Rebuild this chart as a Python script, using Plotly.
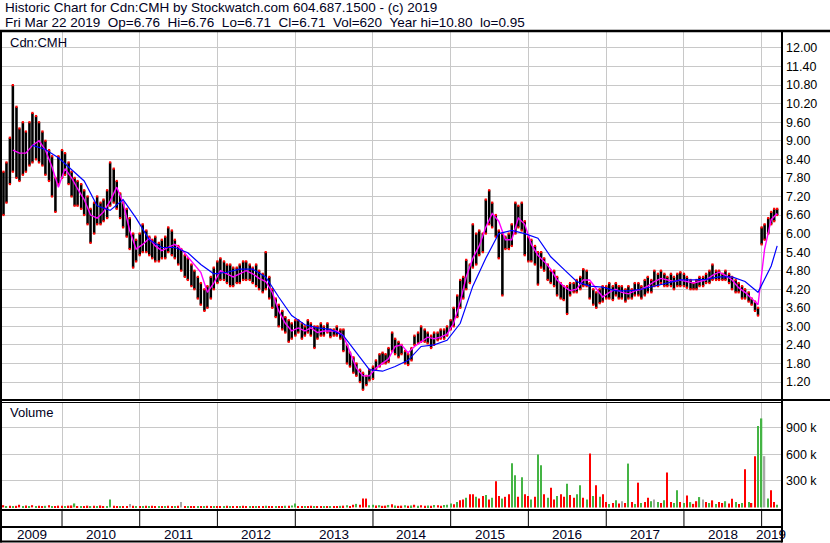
import pandas as pd
import plotly.graph_objects as go

# ---------------- data (semi-monthly samples, Apr 2009 .. Mar 2019) ----------------
dates = pd.date_range("2009-04-01", periods=240, freq="SMS")

high = [
    8.0, 8.3, 9.1, 10.8, 10.1, 9.4, 9.6, 9.3, 9.6, 9.9, 9.8, 9.6, 9.3, 9.0, 8.7, 8.5, 7.8, 8.5,
    8.7, 8.6, 8.3, 8.0, 7.8, 7.7, 7.6, 7.4, 7.2, 6.8, 7.0, 7.2, 7.0, 7.1, 7.4, 8.3, 8.1, 7.7, 7.3, 7.0, 6.8, 6.5, 6.0, 5.8,
    6.0, 6.3, 6.1, 5.9, 5.8, 5.9, 5.7, 5.8, 5.9, 6.2, 6.1, 5.8, 5.6, 5.5, 5.3, 5.2, 5.0, 4.8, 4.6, 4.4, 4.2, 4.3, 4.6, 4.9,
    5.1, 5.2, 5.1, 5.0, 5.0, 4.9, 4.9, 5.0, 5.1, 5.1, 5.0, 4.9, 5.0, 4.8, 4.7, 5.4, 4.6, 4.2, 3.9, 3.7, 3.5, 3.3, 3.2, 3.1,
    3.2, 3.2, 3.1, 3.0, 3.2, 3.1, 3.0, 3.0, 3.1, 3.0, 3.1, 2.9, 2.9, 3.0, 2.9, 2.9, 2.4, 2.15, 2.0, 1.8, 1.6, 1.5, 1.4, 1.6,
    1.7, 1.9, 2.1, 2.15, 2.1, 2.3, 2.8, 2.6, 2.5, 2.4, 2.2, 2.1, 2.3, 2.7, 2.8, 3.0, 2.9, 2.8, 2.7, 2.8, 2.8, 2.9, 2.9, 3.0,
    3.2, 3.6, 4.0, 4.5, 4.6, 5.15, 5.0, 6.3, 6.0, 6.1, 6.0, 7.1, 7.4, 7.0, 6.6, 6.1, 6.0, 5.9, 6.0, 6.3, 7.0, 6.9, 7.0, 6.4,
    5.9, 5.8, 5.6, 5.4, 5.4, 5.2, 5.0, 4.8, 4.8, 4.6, 4.4, 4.3, 4.3, 4.4, 4.4, 4.5, 4.6, 4.85, 4.8, 4.4, 4.2, 4.1, 4.2, 4.3,
    4.3, 4.4, 4.3, 4.4, 4.3, 4.3, 4.2, 4.3, 4.2, 4.4, 4.4, 4.3, 4.5, 4.6, 4.5, 4.8, 4.7, 4.8, 4.7, 4.6, 4.7, 4.6, 4.7, 4.75,
    4.7, 4.6, 4.5, 4.4, 4.5, 4.6, 4.6, 4.7, 4.8, 5.0, 4.8, 4.8, 4.7, 4.8, 4.7, 4.6, 4.5, 4.4, 4.3, 4.2, 4.1, 3.9, 3.8, 3.6,
    6.2, 6.3, 6.5, 6.7, 6.8, 6.8,
]
low = [
    6.6, 7.0, 7.6, 8.0, 7.8, 7.7, 7.9, 8.0, 8.2, 8.3, 8.4, 8.3, 8.2, 7.9, 7.7, 7.2, 6.7, 7.6,
    7.8, 7.9, 7.6, 7.2, 6.9, 6.9, 6.8, 6.6, 6.3, 5.7, 6.0, 6.3, 6.3, 6.4, 6.5, 6.9, 7.0, 6.8, 6.5, 6.2, 5.9, 5.5, 4.9, 5.1,
    5.3, 5.4, 5.4, 5.3, 5.2, 5.1, 5.1, 5.2, 5.2, 5.4, 5.3, 5.2, 5.0, 4.8, 4.6, 4.5, 4.3, 4.2, 3.9, 3.7, 3.5, 3.6, 3.9, 4.2,
    4.4, 4.5, 4.5, 4.4, 4.3, 4.3, 4.4, 4.4, 4.5, 4.5, 4.5, 4.4, 4.3, 4.2, 4.1, 4.2, 3.9, 3.6, 3.3, 3.0, 2.9, 2.8, 2.5, 2.6,
    2.7, 2.8, 2.6, 2.7, 2.8, 2.7, 2.3, 2.6, 2.7, 2.7, 2.8, 2.65, 2.7, 2.7, 2.6, 2.2, 1.8, 1.7, 1.5, 1.4, 1.2, 0.95, 1.1, 1.25,
    1.3, 1.6, 1.7, 1.8, 1.8, 1.85, 2.2, 2.1, 2.0, 2.1, 1.8, 1.75, 1.9, 2.4, 2.45, 2.5, 2.5, 2.45, 2.3, 2.4, 2.55, 2.6, 2.6, 2.7,
    2.9, 3.0, 3.3, 3.6, 3.9, 4.2, 4.4, 4.9, 5.0, 5.3, 5.4, 6.0, 6.3, 6.2, 5.9, 5.2, 4.0, 5.5, 5.5, 5.6, 6.0, 6.2, 6.1, 5.3,
    5.1, 5.1, 5.0, 4.35, 4.9, 4.8, 4.5, 4.4, 4.3, 4.0, 3.9, 3.85, 3.4, 4.0, 4.1, 4.1, 4.2, 4.3, 4.3, 3.9, 3.7, 3.6, 3.75, 3.8,
    3.9, 3.9, 3.85, 4.0, 3.9, 3.9, 3.8, 3.9, 3.9, 4.0, 4.0, 3.9, 4.0, 4.1, 4.1, 4.3, 4.3, 4.4, 4.3, 4.3, 4.3, 4.2, 4.3, 4.3,
    4.3, 4.25, 4.2, 4.2, 4.2, 4.3, 4.3, 4.4, 4.4, 4.5, 4.5, 4.5, 4.5, 4.5, 4.4, 4.2, 4.1, 4.1, 3.9, 3.9, 3.8, 3.7, 3.5, 3.35,
    5.65, 5.8, 6.0, 6.3, 6.4, 6.6,
]

# short moving average (magenta), read at the 15th of each month (samples 3, 5, ... 239)
ma_short = [
    8.7, 8.6, 8.6, 8.85, 9.0, 8.7, 8.15, 7.5, 8.1, 7.8,
    7.45, 7.1, 6.6, 6.5, 6.7, 7.05, 7.5, 7.0, 6.1, 5.5,
    5.65, 5.85, 5.6, 5.45, 5.55, 5.65, 5.5, 5.25, 5.0, 4.75,
    4.1, 4.4, 4.8, 4.7, 4.6, 4.7, 4.8, 4.7, 4.55, 4.45,
    4.1, 3.5, 3.1, 2.85, 2.95, 2.85, 2.95, 2.8, 2.85, 2.85,
    2.85, 2.7, 2.15, 1.65, 1.4, 1.4, 1.65, 1.8, 1.95, 2.35,
    2.4, 2.15, 2.35, 2.5, 2.65, 2.6, 2.65, 2.75, 3.1, 3.8,
    4.6, 5.2, 5.6, 6.2, 6.65, 6.4, 5.8, 5.8, 6.5, 6.3,
    5.65, 5.3, 5.1, 4.85, 4.5, 4.3, 4.15, 4.2, 4.5, 4.5,
    4.2, 3.95, 4.1, 4.2, 4.1, 4.05, 4.15, 4.2, 4.3, 4.45,
    4.55, 4.5, 4.45, 4.5, 4.45, 4.4, 4.45, 4.5, 4.65, 4.75,
    4.65, 4.5, 4.25, 4.1, 3.9, 3.7, 5.5, 6.45, 6.65,
]
# long moving average (blue), read every 4th sample from sample 9, plus the last sample
ma_long = [
    8.85, 8.72, 8.45, 8.05, 7.7, 6.9, 6.75, 7.1, 6.5, 5.8,
    5.55, 5.55, 5.38, 5.0, 4.7, 4.75, 4.85, 4.85, 4.6, 3.95,
    3.35, 3.05, 2.95, 2.9, 2.7, 2.15, 1.6, 1.55, 1.7, 1.9,
    2.35, 2.4, 2.55, 3.1, 4.3, 5.2, 6.0, 6.1, 6.0, 5.85,
    5.25, 4.85, 4.45, 4.3, 4.27, 4.15, 4.15, 4.2, 4.3, 4.4,
    4.5, 4.5, 4.52, 4.6, 4.6, 4.45, 4.1, 4.95, 5.6,
]

# volume (thousands of shares, highest day in each half month) and bar colour code
volume_k = [
    25, 15, 20, 12, 18, 30, 15, 22, 10, 25, 14, 20, 12, 18, 25, 15, 12, 20,
    18, 14, 20, 22, 45, 12, 16, 10, 20, 14, 18, 15, 22, 16, 12, 90, 20, 15, 14, 16, 12, 38, 18, 15,
    15, 12, 18, 14, 20, 12, 16, 10, 14, 18, 12, 15, 20, 60, 14, 12, 16, 10, 14, 12, 15, 18, 12, 14,
    12, 10, 14, 18, 12, 16, 10, 14, 20, 12, 10, 14, 16, 12, 10, 18, 14, 12, 10, 16, 14, 20, 18, 23,
    45, 16, 12, 14, 10, 18, 12, 14, 16, 12, 10, 14, 12, 16, 18, 20, 25, 14, 30, 40, 30, 100, 100, 25,
    30, 22, 25, 18, 20, 28, 35, 22, 18, 20, 25, 18, 22, 30, 20, 25, 18, 22, 20, 28, 24, 20, 26, 30,
    45, 35, 60, 80, 90, 110, 148, 148, 120, 100, 130, 140, 90, 110, 295, 130, 100, 120, 150, 500, 364, 120, 340, 150,
    130, 90, 120, 600, 477, 150, 110, 223, 90, 130, 150, 120, 269, 140, 110, 150, 250, 110, 90, 610, 130, 250, 120, 148,
    60, 40, 50, 80, 45, 70, 50, 496, 60, 40, 280, 50, 60, 110, 70, 90, 60, 50, 80, 394, 60, 50, 193, 60,
    50, 136, 60, 40, 70, 117, 90, 60, 50, 80, 40, 60, 50, 70, 45, 98, 60, 40, 50, 432, 60, 50, 580, 920,
    1007, 580, 100, 193, 60, 30,
]
volume_dir = (
    "rgrgrrgrgrgrrgrgrr"
    "rgrrgrgrrgrgrrggrrgrrnrg"
    "rgrgrrgrgrrgrnrgrrgrgrrg"
    "rrgrgrrgrrgrgrrgrrgrrgrg"
    "grrgrrgrrgrgrrgrgrrgrrrg"
    "grgrrgrgrrgrgrgrrgrgrrgg"
    "grgrrgrrgrrgrgrrgrrggrgr"
    "rgrggrgrrgrrgrrggrgrgrgr"
    "rgrgrnrgrgrgrrgngrgrrggr"
    "grgrrgnrgrgrrgrrgrgrgrrg"
    "gngrrg"
)

price_ticks = [1.2, 1.8, 2.4, 3.0, 3.6, 4.2, 4.8, 5.4, 6.0, 6.6, 7.2, 7.8, 8.4, 9.0, 9.6, 10.2, 10.8, 11.4, 12.0]
volume_ticks = [300000, 600000, 900000]
volume_tick_text = ["300 k", "600 k", "900 k"]
year_labels = ["2009", "2010", "2011", "2012", "2013", "2014", "2015", "2016", "2017", "2018", "2019"]

header1 = "Historic Chart for Cdn:CMH by Stockwatch.com 604.687.1500 - (c) 2019"
header2 = "Fri Mar 22 2019  Op=6.76  Hi=6.76  Lo=6.71  Cl=6.71  Vol=620  Year hi=10.80  lo=0.95"

# ---------------- figure ----------------
W, H = 830, 543
FONT = "Liberation Sans, Arial, sans-serif"
X_START, X_END = "2009-03-25", "2019-04-02"

def px(x):
    return x / W

def py(y):
    return 1 - y / H

ms_day = 86400000
dir_color = {"r": "#FF0000", "g": "#44B444", "n": "#A8A8A8"}

fig = go.Figure()

fig.add_trace(go.Bar(
    x=dates, y=[h - l for h, l in zip(high, low)], base=low,
    width=12 * ms_day, marker=dict(color="#000000", line=dict(width=0)),
    xaxis="x", yaxis="y", hoverinfo="skip",
))
fig.add_trace(go.Scatter(
    x=list(dates) + list(dates), y=high + low, mode="markers",
    marker=dict(symbol="square", size=2.2, color="#FF0000", line=dict(width=0)),
    xaxis="x", yaxis="y", hoverinfo="skip",
))
fig.add_trace(go.Scatter(
    x=dates[3::2], y=ma_short, mode="lines",
    line=dict(color="#FF00FF", width=1.4), xaxis="x", yaxis="y", hoverinfo="skip",
))
fig.add_trace(go.Scatter(
    x=list(dates[9::4]) + [dates[239]], y=ma_long, mode="lines",
    line=dict(color="#0000FF", width=1.2), xaxis="x", yaxis="y", hoverinfo="skip",
))
fig.add_trace(go.Bar(
    x=dates, y=[v * 1000 for v in volume_k],
    width=6 * ms_day, marker=dict(color=[dir_color[c] for c in volume_dir], line=dict(width=0)),
    xaxis="x2", yaxis="y2", hoverinfo="skip",
))

grid = "#C8C8C8"
xcommon = dict(
    type="date", range=[X_START, X_END], showticklabels=False, ticks="",
    showgrid=True, gridcolor=grid, gridwidth=1, dtick="M12", tick0="2010-01-01",
    zeroline=False, showline=False, fixedrange=True,
)
fig.update_layout(
    width=W, height=H, margin=dict(l=0, r=0, t=0, b=0),
    paper_bgcolor="white", plot_bgcolor="white", showlegend=False,
    barmode="overlay", hovermode=False,
    font=dict(family=FONT, size=13, color="#000000"),
    xaxis=dict(domain=[px(2), px(781)], anchor="y", **xcommon),
    xaxis2=dict(domain=[px(2), px(781)], anchor="y2", matches="x", **xcommon),
    yaxis=dict(
        domain=[py(400), py(32)], range=[0.619, 12.517], side="right", anchor="x",
        tickvals=price_ticks, tickformat=".2f", ticks="", ticklabelstandoff=4,
        tickfont=dict(family=FONT, size=12.5, color="#000000"),
        showgrid=True, gridcolor=grid, gridwidth=1, zeroline=False, showline=False, fixedrange=True,
    ),
    yaxis2=dict(
        domain=[py(509), py(402)], range=[-18000, 1193000], side="right", anchor="x2",
        tickvals=volume_ticks, ticktext=volume_tick_text, ticks="", ticklabelstandoff=4,
        tickfont=dict(family=FONT, size=12.5, color="#000000"),
        showgrid=True, gridcolor=grid, gridwidth=1, zeroline=False, showline=False, fixedrange=True,
    ),
)

shapes = []
def hline(y, x0, x1, w):
    shapes.append(dict(type="line", xref="paper", yref="paper", x0=px(x0), x1=px(x1),
                       y0=py(y), y1=py(y), line=dict(color="black", width=w)))
def vline(x, y0, y1, w):
    shapes.append(dict(type="line", xref="paper", yref="paper", x0=px(x), x1=px(x),
                       y0=py(y0), y1=py(y1), line=dict(color="black", width=w)))

hline(31, 0, 830, 2.5)
hline(400, 0, 830, 2)
hline(402.5, 0, 782, 1)
hline(510, 0, 782, 2)
hline(527, 0, 782, 2)
hline(541.5, 0, 782, 2)
vline(1, 30, 542.5, 2)
vline(782, 30, 542.5, 2)

year_starts = [pd.Timestamp(f"{y}-01-01") for y in year_labels[1:]]
for ys in year_starts:
    shapes.append(dict(type="line", xref="x", yref="paper", x0=ys, x1=ys,
                       y0=py(527), y1=py(510), line=dict(color="black", width=1)))
fig.update_layout(shapes=shapes)

annotations = [
    dict(text=header1, x=px(3), y=py(8), xref="paper", yref="paper", xanchor="left", yanchor="middle",
         showarrow=False, font=dict(family=FONT, size=13.5, color="#000022")),
    dict(text=header2, x=px(3), y=py(22), xref="paper", yref="paper", xanchor="left", yanchor="middle",
         showarrow=False, font=dict(family=FONT, size=13.5, color="#000022")),
    dict(text="Cdn:CMH", x=px(8), y=py(42), xref="paper", yref="paper", xanchor="left", yanchor="middle",
         showarrow=False, font=dict(family=FONT, size=13, color="#000022")),
    dict(text="Volume", x=px(8), y=py(413), xref="paper", yref="paper", xanchor="left", yanchor="middle",
         showarrow=False, font=dict(family=FONT, size=13, color="#000022")),
]
bounds = [pd.Timestamp(X_START)] + year_starts + [pd.Timestamp(X_END)]
for lbl, a, b in zip(year_labels, bounds[:-1], bounds[1:]):
    annotations.append(dict(text=lbl, x=a + (b - a) / 2, y=py(534.5), xref="x", yref="paper",
                            xanchor="center", yanchor="middle", showarrow=False,
                            font=dict(family=FONT, size=13.5, color="#000022")))
fig.update_layout(annotations=annotations)

fig.write_html(
    "out.html",
    config={"displayModeBar": False},
    post_script="document.body.style.margin='0px'; document.body.style.overflow='hidden';",
)
